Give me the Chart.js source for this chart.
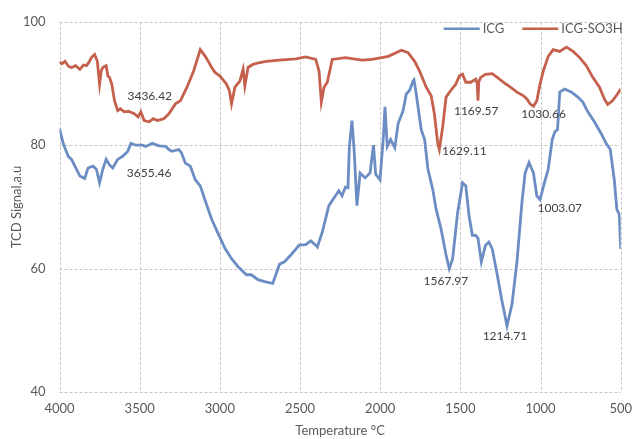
<!DOCTYPE html>
<html>
<head>
<meta charset="utf-8">
<script src="https://cdn.jsdelivr.net/npm/chart.js@4.4.1/dist/chart.umd.min.js"></script>
<style>
  html, body { margin: 0; padding: 0; background: #ffffff; }
  #wrap { width: 641px; height: 439px; position: relative; }
</style>
</head>
<body>
<div id="wrap"><canvas id="chart" width="641" height="439"></canvas></div>
<script>
// ICG spectrum
const icgWave = [4000, 3977, 3946, 3925, 3904, 3873, 3843, 3822, 3791, 3770, 3750, 3730, 3709, 3688, 3668, 3637, 3606, 3575, 3554, 3523, 3483, 3462, 3421, 3380, 3338, 3318, 3297, 3256, 3240, 3215, 3184, 3153, 3122, 3091, 3051, 3009, 2968, 2927, 2886, 2834, 2804, 2762, 2721, 2670, 2628, 2597, 2557, 2505, 2464, 2433, 2402, 2392, 2361, 2320, 2279, 2258, 2238, 2217, 2201, 2192, 2176, 2162, 2145, 2125, 2094, 2063, 2042, 2028, 2001, 1980, 1970, 1956, 1935, 1909, 1888, 1857, 1837, 1816, 1795, 1789, 1775, 1744, 1723, 1702, 1672, 1651, 1620, 1589, 1569, 1548, 1517, 1486, 1466, 1446, 1425, 1404, 1390, 1369, 1343, 1322, 1301, 1270, 1240, 1209, 1178, 1147, 1116, 1096, 1072, 1044, 1023, 1003, 976, 952, 927, 910, 894, 880, 849, 807, 767, 736, 705, 664, 622, 591, 565, 540, 524, 509, 500];
const icgSignal = [82.7, 80.3, 78.2, 77.7, 76.6, 75.0, 74.6, 76.3, 76.6, 76.1, 73.9, 76.1, 77.7, 76.8, 76.3, 77.7, 78.2, 79.0, 80.3, 80.0, 80.0, 79.8, 80.3, 79.9, 79.8, 79.3, 79.0, 79.3, 78.8, 77.1, 76.6, 74.4, 73.4, 71.0, 68.0, 65.6, 63.3, 61.6, 60.3, 59.0, 59.0, 58.2, 57.9, 57.6, 60.7, 61.1, 62.2, 63.8, 63.9, 64.5, 63.8, 63.5, 65.9, 70.2, 71.8, 72.6, 71.8, 73.2, 73.1, 79.8, 84.0, 79.0, 70.2, 75.5, 74.7, 75.5, 80.0, 75.3, 74.4, 81.4, 86.2, 79.8, 80.9, 79.6, 83.5, 85.6, 88.3, 88.9, 90.4, 90.6, 88.3, 82.5, 80.9, 76.1, 72.8, 69.6, 66.4, 62.2, 60.0, 61.6, 69.1, 73.9, 73.4, 68.6, 65.4, 65.4, 64.9, 61.1, 63.8, 64.3, 63.2, 59.0, 54.7, 50.7, 54.2, 61.1, 70.7, 75.5, 77.2, 75.5, 71.8, 71.2, 73.9, 76.1, 80.9, 82.2, 82.5, 88.6, 89.1, 88.6, 87.8, 87.0, 85.4, 83.8, 81.9, 80.3, 79.3, 74.4, 69.6, 68.8, 63.2];

// ICG-SO3H spectrum
const so3hWave = [4000, 3985, 3966, 3945, 3925, 3900, 3873, 3850, 3832, 3815, 3801, 3781, 3764, 3750, 3740, 3730, 3709, 3698, 3688, 3674, 3657, 3637, 3620, 3596, 3570, 3534, 3510, 3493, 3472, 3441, 3415, 3390, 3349, 3318, 3277, 3246, 3205, 3164, 3122, 3091, 3070, 3051, 3030, 2999, 2958, 2940, 2927, 2906, 2875, 2855, 2844, 2824, 2793, 2750, 2711, 2628, 2526, 2464, 2402, 2381, 2367, 2350, 2330, 2299, 2217, 2114, 2052, 1949, 1867, 1826, 1785, 1754, 1713, 1682, 1662, 1641, 1631, 1610, 1589, 1559, 1528, 1507, 1486, 1466, 1435, 1404, 1395, 1390, 1385, 1373, 1343, 1301, 1270, 1230, 1188, 1147, 1106, 1085, 1065, 1044, 1023, 1003, 983, 952, 921, 880, 838, 797, 756, 715, 674, 632, 602, 581, 551, 520, 500];
const so3hSignal = [93.5, 93.2, 93.6, 92.8, 92.6, 92.9, 92.3, 93.0, 92.9, 93.5, 94.2, 94.7, 93.6, 89.9, 92.0, 92.6, 92.9, 91.2, 91.0, 89.9, 87.2, 85.6, 85.9, 85.4, 85.5, 85.1, 84.6, 85.4, 84.0, 83.8, 84.3, 84.0, 84.3, 85.1, 86.7, 87.2, 89.4, 92.0, 95.5, 94.4, 93.5, 92.6, 91.8, 91.2, 89.9, 88.8, 86.7, 89.4, 90.4, 92.3, 89.6, 92.6, 93.1, 93.4, 93.6, 93.8, 94.0, 94.3, 93.9, 92.0, 87.0, 89.4, 90.2, 93.9, 94.2, 93.8, 93.9, 94.4, 95.4, 95.0, 93.6, 92.0, 89.4, 88.0, 85.1, 80.3, 79.3, 83.0, 87.8, 88.9, 89.9, 91.2, 91.5, 90.2, 90.2, 90.7, 90.0, 87.2, 90.3, 91.0, 91.5, 91.6, 91.0, 90.2, 89.4, 88.6, 88.0, 87.5, 86.7, 86.3, 87.2, 89.9, 92.0, 94.4, 95.5, 95.2, 95.9, 95.2, 94.2, 92.9, 91.0, 89.4, 87.5, 86.6, 87.2, 88.3, 89.1];

// Axis ticks
const xTicks = [4000, 3500, 3000, 2500, 2000, 1500, 1000, 500];
const yTicks = [40, 60, 80, 100];

// Peak labels and where they sit (in axis units)
const peakText = ['3436.42', '3655.46', '1629.11', '1169.57', '1030.66', '1003.07', '1567.97', '1214.71'];
const peakAtX = [3437, 3441, 1475, 1401, 981, 880, 1590, 1222];
const peakAtY = [88.0, 75.4, 79.0, 85.6, 85.0, 69.8, 57.9, 49.1];

const seriesNames = ['ICG', 'ICG-SO3H'];
const seriesColors = ['#6b8dc3', '#c4604b'];

const FONT = 'Lato, "Open Sans", sans-serif';
const TEXT_COLOR = '#595959';

function toPoints(xs, ys) {
  return xs.map((x, i) => ({ x: x, y: ys[i] }));
}

// Dashed grid, drawn from the scales' own tick positions
const dashedGrid = {
  id: 'dashedGrid',
  beforeDatasetsDraw(chart) {
    const { ctx, chartArea, scales } = chart;
    ctx.save();
    ctx.strokeStyle = '#c6c6c6';
    ctx.lineWidth = 1;
    ctx.setLineDash([3, 2]);
    xTicks.forEach(v => {
      const px = Math.round(scales.x.getPixelForValue(v)) + 0.5;
      ctx.beginPath();
      ctx.moveTo(px, chartArea.top);
      ctx.lineTo(px, chartArea.bottom);
      ctx.stroke();
    });
    yTicks.forEach(v => {
      const py = Math.round(scales.y.getPixelForValue(v)) + 0.5;
      ctx.beginPath();
      ctx.moveTo(chartArea.left, py);
      ctx.lineTo(chartArea.right, py);
      ctx.stroke();
    });
    ctx.restore();
  }
};

// Peak annotations
const peakLabels = {
  id: 'peakLabels',
  afterDatasetsDraw(chart) {
    const { ctx, scales } = chart;
    ctx.save();
    ctx.font = '12px ' + FONT;
    ctx.fillStyle = '#404040';
    ctx.textAlign = 'center';
    ctx.textBaseline = 'middle';
    peakText.forEach((t, i) => {
      ctx.fillText(t, scales.x.getPixelForValue(peakAtX[i]), scales.y.getPixelForValue(peakAtY[i]));
    });
    ctx.restore();
  }
};

// Legend in the top-right corner of the plot
const cornerLegend = {
  id: 'cornerLegend',
  afterDraw(chart) {
    const { ctx, chartArea } = chart;
    ctx.save();
    ctx.font = '13px ' + FONT;
    ctx.textBaseline = 'middle';
    ctx.textAlign = 'left';
    const y = chartArea.top + 7;
    const lineLen = 36, gap = 3, between = 18;
    const widths = seriesNames.map(n => ctx.measureText(n).width);
    const total = widths.reduce((a, w) => a + lineLen + gap + w, 0) + between;
    let x = chartArea.right + 2 - total;
    seriesNames.forEach((n, i) => {
      ctx.strokeStyle = seriesColors[i];
      ctx.lineWidth = 2.5;
      ctx.beginPath();
      ctx.moveTo(x, y);
      ctx.lineTo(x + lineLen, y);
      ctx.stroke();
      x += lineLen + gap;
      ctx.fillStyle = TEXT_COLOR;
      ctx.fillText(n, x, y);
      x += widths[i] + between;
    });
    ctx.restore();
  }
};

new Chart(document.getElementById('chart'), {
  type: 'line',
  data: {
    datasets: [
      {
        label: seriesNames[0],
        data: toPoints(icgWave, icgSignal),
        borderColor: seriesColors[0],
        borderWidth: 2.8,
        pointRadius: 0,
        tension: 0,
        fill: false,
        order: 2
      },
      {
        label: seriesNames[1],
        data: toPoints(so3hWave, so3hSignal),
        borderColor: seriesColors[1],
        borderWidth: 2.8,
        pointRadius: 0,
        tension: 0,
        fill: false,
        order: 1
      }
    ]
  },
  options: {
    responsive: false,
    animation: false,
    parsing: false,
    layout: { padding: { top: 17, right: 14, bottom: 0, left: 0 } },
    plugins: {
      legend: { display: false },
      tooltip: { enabled: false }
    },
    scales: {
      x: {
        type: 'linear',
        reverse: true,
        min: 500,
        max: 4000,
        afterBuildTicks(scale) { scale.ticks = xTicks.map(v => ({ value: v })); },
        afterFit(scale) { scale.height = 47; },
        grid: { display: false, drawTicks: false },
        border: { display: false },
        ticks: {
          padding: 9,
          color: TEXT_COLOR,
          font: { family: FONT, size: 13 },
          maxRotation: 0,
          autoSkip: false,
          callback: v => String(v)
        },
        title: {
          display: true,
          text: 'Temperature °C',
          color: TEXT_COLOR,
          font: { family: FONT, size: 13 },
          padding: { top: 0, bottom: 0 }
        }
      },
      y: {
        type: 'linear',
        min: 40,
        max: 100,
        afterBuildTicks(scale) { scale.ticks = yTicks.map(v => ({ value: v })); },
        afterFit(scale) { scale.width = 59.5; },
        grid: { display: false, drawTicks: false },
        border: { display: false },
        ticks: {
          padding: 14,
          color: TEXT_COLOR,
          font: { family: FONT, size: 13 },
          callback: v => String(v)
        },
        title: {
          display: true,
          text: 'TCD Signal,a.u',
          color: TEXT_COLOR,
          font: { family: FONT, size: 13 },
          padding: { top: 9, bottom: 0 }
        }
      }
    }
  },
  plugins: [dashedGrid, peakLabels, cornerLegend]
});
</script>
</body>
</html>
